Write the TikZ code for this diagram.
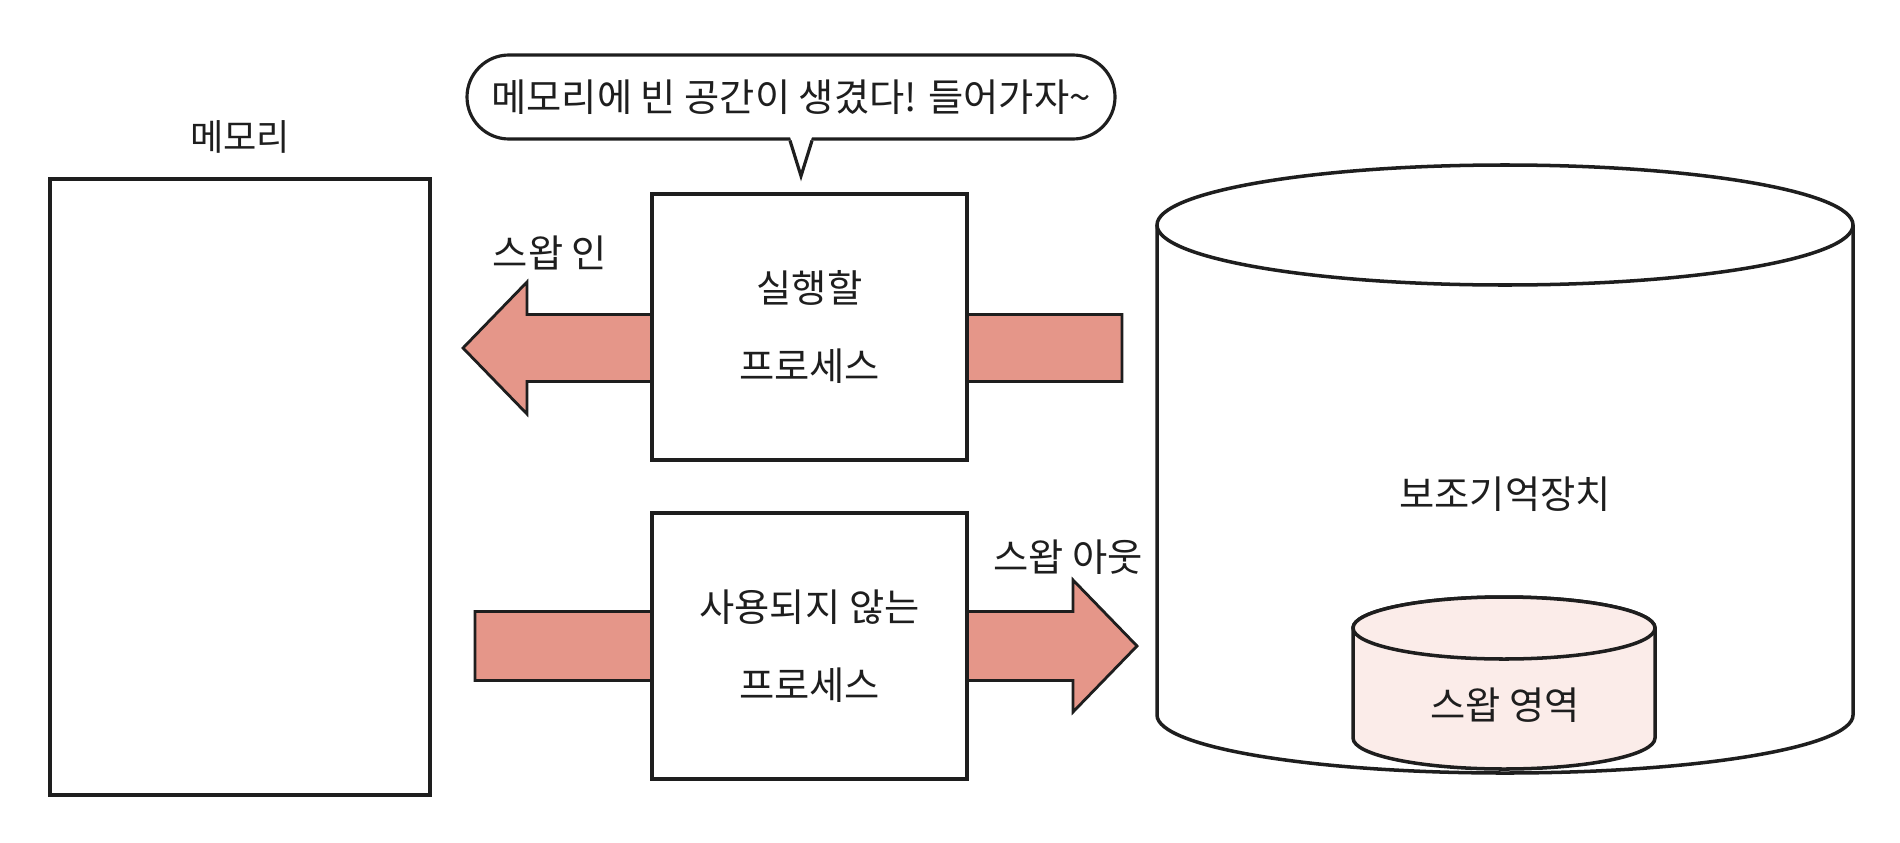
\documentclass[tikz,border=0pt]{standalone}
\usepackage{fontspec}
\newfontfamily\kr{Noto Sans CJK KR}
\usepackage{tikz}
\usetikzlibrary{positioning,calc}
\definecolor{inkdark}{RGB}{30,30,30}
\definecolor{swapred}{RGB}{229,150,137}
\definecolor{swappink}{RGB}{251,236,233}

\begin{document}
\begin{tikzpicture}[
  every node/.style={font=\kr\fontsize{10.9pt}{22pt}\selectfont, text=inkdark},
  procbox/.style={draw=inkdark, fill=white, line width=0.9pt, minimum width=3.15cm, minimum height=2.66cm, align=center},
  fatarr/.style={draw=inkdark, fill=swapred, line width=0.8pt, line join=miter},
  cyl/.style={draw=inkdark, line width=1pt},
  bubble/.style={draw=inkdark, fill=white, line width=0.9pt, rounded corners=0.42cm, minimum width=6.48cm, minimum height=0.84cm}
]
  \useasboundingbox (0,0) rectangle (19,8.42);

  % Swap arrows (drawn under the process boxes)
  \coordinate (intip)   at (4.63,4.94);
  \coordinate (inend)   at (11.22,4.94);
  \coordinate (outtail) at (4.75,1.96);
  \coordinate (outtip)  at (11.37,1.96);
  \draw[fatarr] (inend) ++(0,0.335) -- ++(-5.95,0) -- ++(0,0.325) -- (intip)
    -- ++(0.64,-0.66) -- ++(0,0.325) -- ++(5.95,0) -- cycle;
  \draw[fatarr] (outtail) ++(0,0.345) -- ++(5.98,0) -- ++(0,0.315) -- (outtip)
    -- ++(-0.64,-0.66) -- ++(0,0.315) -- ++(-5.98,0) -- cycle;

  % Memory and processes
  \node[procbox, minimum width=3.8cm, minimum height=6.16cm] (memory) at (2.40,3.55) {};
  \node[above=0.12cm of memory, font=\kr\fontsize{10.3pt}{12pt}\selectfont] (memlabel) {메모리};
  \node[procbox] (runproc)  at (8.095,5.15) {실행할\\프로세스};
  \node[procbox] (idleproc) at (8.095,1.96) {사용되지 않는\\프로세스};

  \node (swapin)  at (5.50,5.89)  {스왑 인};
  \node (swapout) at (10.68,2.85) {스왑 아웃};

  % Speech bubble
  \node[bubble] (speech) at (7.91,7.45) {메모리에 빈 공간이 생겼다! 들어가자\textasciitilde};
  \coordinate (tailtip) at (8.01,6.66);
  \fill[white] ($(speech.south)+(-0.01,0.04)$) -- (tailtip) -- ($(speech.south)+(0.21,0.04)$) -- cycle;
  \draw[inkdark, line width=0.9pt] ($(speech.south)+(-0.01,0)$) -- (tailtip) -- ($(speech.south)+(0.21,0)$);

  % Secondary storage
  \draw[cyl] (11.57,6.17) -- (11.57,1.27) arc[start angle=180, end angle=360, x radius=3.48, y radius=0.58] -- (18.53,6.17);
  \draw[cyl] (15.05,6.17) ellipse[x radius=3.48, y radius=0.60];
  \node (disk) at (15.05,3.48) {보조기억장치};

  % Swap area
  \draw[cyl, fill=swappink] (13.53,2.14) -- (13.53,1.04) arc[start angle=180, end angle=360, x radius=1.51, y radius=0.31]
    -- (16.55,2.14) arc[start angle=0, end angle=180, x radius=1.51, y radius=0.31] -- cycle;
  \draw[cyl, fill=swappink] (15.04,2.14) ellipse[x radius=1.51, y radius=0.31];
  \node (swaparea) at (15.05,1.37) {스왑 영역};
\end{tikzpicture}
\end{document}
